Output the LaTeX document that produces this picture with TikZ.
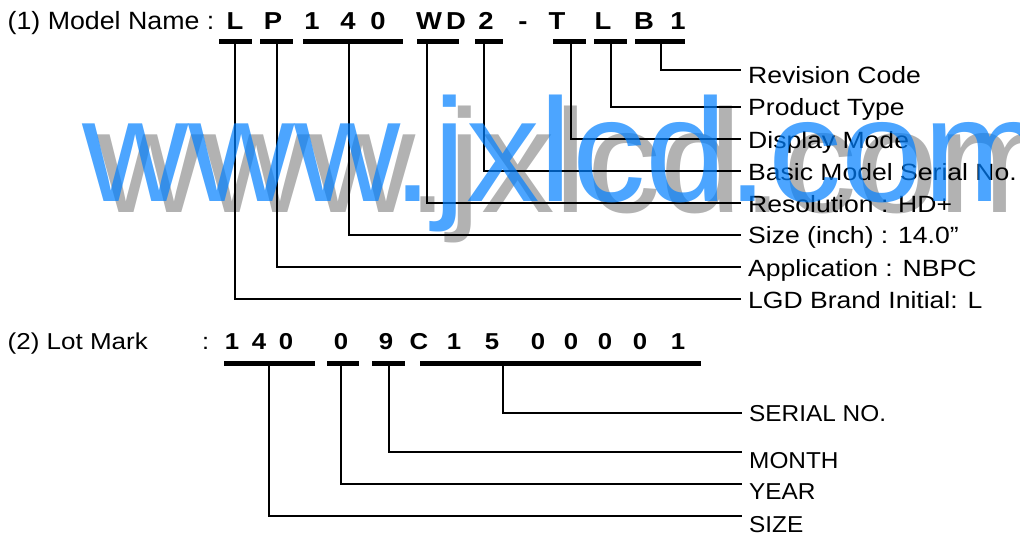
\documentclass[tikz,border=0pt]{standalone}
\usepackage{fontspec}
\setmainfont{Liberation Sans}
\definecolor{wmblue}{RGB}{0,128,255}
\begin{document}
\begin{tikzpicture}[x=1pt,y=-1pt,
  bar/.style={fill=black,draw=none,inner sep=0pt,minimum height=5pt},
  conn/.style={draw=black,line width=2pt},
  connlow/.style={draw=black,line width=2.6pt},
  lbl/.style={anchor=base west,inner sep=0pt,font=\fontsize{23.5}{28}\selectfont},
  lbllow/.style={anchor=base west,inner sep=0pt,font=\fontsize{23}{28}\selectfont},
  ttl/.style={anchor=base west,inner sep=0pt,font=\fontsize{25}{30}\selectfont},
  ch/.style={anchor=base,inner sep=0pt,font=\bfseries\fontsize{24.5}{28}\selectfont},
  dg/.style={anchor=base,inner sep=0pt,font=\bfseries\fontsize{23}{28}\selectfont},
  wm/.style={anchor=base west,inner sep=0pt,font=\fontsize{147}{150}\selectfont}
]
\clip (0,0) rectangle (1020,536);
\fill[white] (0,0) rectangle (1020,536);
\newcommand{\wx}[2]{\scalebox{#1}[1]{#2}}

% ---------- (1) Model name ----------
\node[ttl] (title1) at (7.5,29.5) {\wx{1.07}{(1) Model Name :}};
\node[ch] (c1) at (235,29.5) {\wx{1.12}{L}};
\node[ch] (c2) at (273,29.5) {\wx{1.12}{P}};
\node[ch] (c3) at (312,29.5) {\wx{1.12}{1}};
\node[ch] (c4) at (348,29.5) {\wx{1.12}{4}};
\node[ch] (c5) at (378,29.5) {\wx{1.12}{0}};
\node[ch] (c6) at (429,29.5) {\wx{1.12}{W}};
\node[ch] (c7) at (456,29.5) {\wx{1.12}{D}};
\node[ch] (c8) at (486,29.5) {\wx{1.12}{2}};
\node[ch] (c9) at (523,29.5) {\wx{1.12}{-}};
\node[ch] (c10) at (557,29.5) {\wx{1.12}{T}};
\node[ch] (c11) at (603,29.5) {\wx{1.12}{L}};
\node[ch] (c12) at (644,29.5) {\wx{1.12}{B}};
\node[ch] (c13) at (678,29.5) {\wx{1.12}{1}};

\node[bar,minimum width=33pt] (bL) at (235.5,41.5) {};
\node[bar,minimum width=33pt] (bP) at (276.5,41.5) {};
\node[bar,minimum width=100pt] (bS) at (353,41.5) {};
\node[bar,minimum width=42pt] (bR) at (438,41.5) {};
\node[bar,minimum width=28pt] (bB) at (489,41.5) {};
\node[bar,minimum width=33pt] (bD) at (569.5,41.5) {};
\node[bar,minimum width=33pt] (bT) at (610.5,41.5) {};
\node[bar,minimum width=50pt] (bV) at (660,41.5) {};

\node[lbl] (lV) at (748,83) {\wx{1.13}{Revision Code}};
\node[lbl] (lT) at (748,115) {\wx{1.13}{Product Type}};
\node[lbl] (lD) at (748,148) {\wx{1.13}{Display Mode}};
\node[lbl] (lB) at (748,180) {\wx{1.13}{Basic Model Serial No.}};
\node[lbl] (lR) at (748,212) {\wx{1.13}{Resolution : HD+}};
\node[lbl] (lS) at (748,243.5) {\wx{1.13}{Size (inch) : 14.0”}};
\node[lbl] (lP) at (748,276) {\wx{1.13}{Application : NBPC}};
\node[lbl] (lL) at (748,308) {\wx{1.13}{LGD Brand Initial: L}};

\coordinate (tV) at (661,44);   \coordinate (eV) at (741,70);
\coordinate (tT) at (611,44);   \coordinate (eT) at (741,106.5);
\coordinate (tD) at (571,44);   \coordinate (eD) at (741,138.5);
\coordinate (tB) at (484,44);   \coordinate (eB) at (741,170.5);
\coordinate (tR) at (427,44);   \coordinate (eR) at (741,202.5);
\coordinate (tS) at (349,44);   \coordinate (eS) at (741,234.5);
\coordinate (tP) at (277,44);   \coordinate (eP) at (741,266.7);
\coordinate (tL) at (235,44);   \coordinate (eL) at (741,298.7);
\foreach \k in {V,T,D,B,R,S,P,L}{\draw[conn] (t\k) |- (e\k);}

% ---------- (2) Lot mark ----------
\node[ttl] (title2) at (7.5,349) {\wx{1.13}{\fontsize{23}{28}\selectfont (2) Lot Mark}};
\node[ttl] (colon2) at (202,349) {\wx{1.1}{\fontsize{23}{28}\selectfont :}};
\node[dg] (d1) at (232,349) {\wx{1.12}{1}};
\node[dg] (d2) at (259,349) {\wx{1.12}{4}};
\node[dg] (d3) at (286,349) {\wx{1.12}{0}};
\node[dg] (d4) at (341,349) {\wx{1.12}{0}};
\node[dg] (d5) at (386,349) {\wx{1.12}{9}};
\node[dg] (d6) at (419,349) {\wx{1.12}{C}};
\node[dg] (d7) at (454,349) {\wx{1.12}{1}};
\node[dg] (d8) at (492,349) {\wx{1.12}{5}};
\node[dg] (d9) at (538,349) {\wx{1.12}{0}};
\node[dg] (d10) at (571,349) {\wx{1.12}{0}};
\node[dg] (d11) at (605,349) {\wx{1.12}{0}};
\node[dg] (d12) at (640,349) {\wx{1.12}{0}};
\node[dg] (d13) at (678,349) {\wx{1.12}{1}};

\node[bar,minimum width=91pt,minimum height=5.3pt] (mZ) at (269.5,363.3) {};
\node[bar,minimum width=32pt,minimum height=5.3pt] (mY) at (343,363.3) {};
\node[bar,minimum width=33pt,minimum height=5.3pt] (mM) at (388.5,363.3) {};
\node[bar,minimum width=281pt,minimum height=5.3pt] (mN) at (560.5,363.3) {};

\node[lbllow] (nN) at (749,421) {\wx{1.06}{SERIAL NO.}};
\node[lbllow] (nM) at (749,468) {\wx{1.06}{MONTH}};
\node[lbllow] (nY) at (749,499) {\wx{1.06}{YEAR}};
\node[lbllow] (nZ) at (749,532) {\wx{1.06}{SIZE}};

\coordinate (uN) at (503,366); \coordinate (fN) at (742,413);
\coordinate (uM) at (389,366); \coordinate (fM) at (742,452);
\coordinate (uY) at (341,366); \coordinate (fY) at (742,484);
\coordinate (uZ) at (269,366); \coordinate (fZ) at (742,516);
\foreach \k in {N,M,Y,Z}{\draw[connlow] (u\k) |- (f\k);}

% ---------- watermark ----------
\node[wm,text=black,text opacity=0.3] (wmshadow) at (97,212) {www.jxlcd.com};
\node[wm,text=wmblue,text opacity=0.7] (wmtext) at (82,201) {www.jxlcd.com};
\end{tikzpicture}
\end{document}
